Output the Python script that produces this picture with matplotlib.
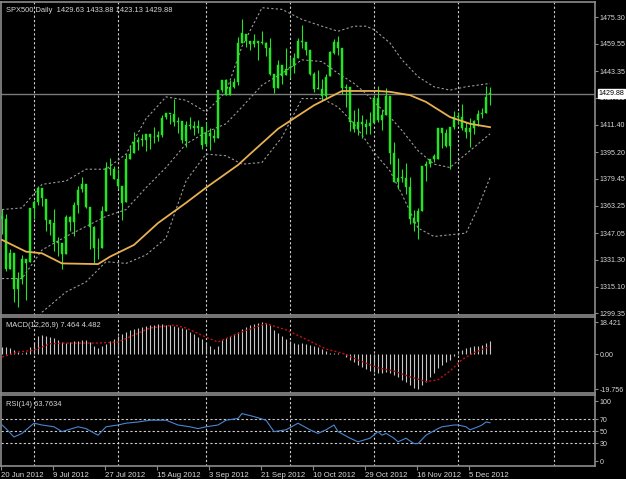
import matplotlib
matplotlib.use('Agg')
import matplotlib.pyplot as plt

# daily bars, SPX500, 20 Jun 2012 .. 12 Dec 2012
opens = [1357.0, 1355.4, 1325.9, 1334.9, 1314.0, 1320.0, 1331.5, 1330.0, 1362.0, 1365.8,
         1373.7, 1367.0, 1354.7, 1352.9, 1341.4, 1341.3, 1334.8, 1356.5, 1353.7, 1363.5,
         1373.0, 1376.5, 1362.3, 1350.5, 1338.4, 1338.2, 1360.1, 1385.9, 1385.3, 1379.3,
         1375.1, 1365.5, 1391.0, 1394.5, 1401.2, 1402.3, 1402.6, 1405.9, 1404.4, 1403.9,
         1405.6, 1415.8, 1417.9, 1418.1, 1413.1, 1413.5, 1402.0, 1411.1, 1410.4, 1409.3,
         1410.1, 1400.1, 1406.5, 1404.9, 1403.7, 1432.1, 1437.9, 1429.1, 1433.6, 1436.6,
         1460.1, 1465.4, 1461.2, 1459.5, 1461.1, 1460.3, 1459.8, 1456.9, 1441.6, 1433.4,
         1447.1, 1440.9, 1445.0, 1446.1, 1451.1, 1461.4, 1460.9, 1455.9, 1441.5, 1432.8,
         1432.8, 1428.8, 1440.3, 1454.2, 1460.9, 1457.1, 1433.2, 1433.7, 1413.2, 1409.7,
         1413.0, 1412.0, 1410.9, 1412.2, 1427.6, 1414.0, 1417.3, 1428.3, 1394.5, 1377.6,
         1379.9, 1380.0, 1374.6, 1355.4, 1353.4, 1359.9, 1386.8, 1387.8, 1391.0, 1391.0,
         1409.2, 1406.3, 1398.8, 1410.0, 1416.0, 1416.3, 1409.5, 1407.1, 1409.4, 1414.0,
         1418.1, 1418.6, 1429.63]
highs = [1361.6, 1358.3, 1337.8, 1334.9, 1324.0, 1334.0, 1331.5, 1362.2, 1366.4, 1374.8,
         1373.9, 1367.0, 1354.7, 1361.5, 1345.0, 1341.3, 1357.7, 1357.3, 1365.4, 1375.3,
         1380.4, 1376.5, 1362.3, 1351.5, 1344.0, 1363.1, 1389.2, 1391.7, 1387.2, 1385.0,
         1375.1, 1394.2, 1399.6, 1407.1, 1404.1, 1405.9, 1406.0, 1405.9, 1410.0, 1407.7,
         1417.4, 1418.7, 1418.1, 1426.7, 1416.1, 1413.5, 1413.5, 1416.2, 1413.6, 1414.0,
         1410.1, 1413.1, 1409.3, 1408.8, 1432.1, 1437.9, 1438.7, 1437.8, 1439.2, 1463.8,
         1474.5, 1465.6, 1461.5, 1465.2, 1461.2, 1467.1, 1460.7, 1463.2, 1441.6, 1450.2,
         1447.1, 1457.1, 1451.5, 1454.3, 1463.1, 1471.0, 1460.9, 1455.9, 1442.5, 1443.9,
         1438.4, 1441.3, 1455.5, 1462.2, 1464.0, 1457.1, 1435.5, 1433.7, 1420.0, 1421.1,
         1417.1, 1415.0, 1418.8, 1428.4, 1434.3, 1419.9, 1433.4, 1428.3, 1401.2, 1391.4,
         1384.9, 1388.8, 1380.1, 1360.6, 1362.0, 1386.9, 1389.8, 1391.2, 1394.0, 1409.2,
         1409.2, 1409.0, 1410.0, 1419.7, 1418.9, 1423.7, 1413.1, 1415.6, 1414.0, 1420.3,
         1421.6, 1434.3, 1433.88]
lows = [1346.5, 1324.4, 1325.9, 1306.0, 1303.0, 1317.0, 1307.0, 1330.0, 1355.7, 1363.5,
        1363.0, 1348.0, 1345.7, 1336.3, 1333.3, 1325.4, 1334.8, 1348.5, 1345.1, 1358.8,
        1371.2, 1362.2, 1337.6, 1329.2, 1331.5, 1338.2, 1360.1, 1381.4, 1379.2, 1373.1,
        1354.7, 1365.5, 1391.0, 1394.5, 1396.6, 1398.8, 1395.6, 1397.3, 1400.6, 1401.6,
        1404.2, 1414.7, 1412.1, 1410.9, 1406.8, 1400.5, 1398.0, 1409.1, 1405.6, 1406.6,
        1397.0, 1399.0, 1396.6, 1401.3, 1403.7, 1431.0, 1429.0, 1429.1, 1433.0, 1435.0,
        1460.1, 1457.6, 1456.1, 1457.9, 1450.0, 1459.5, 1452.1, 1441.1, 1430.5, 1433.4,
        1435.6, 1440.9, 1439.0, 1442.0, 1451.1, 1456.9, 1453.1, 1441.2, 1430.6, 1432.8,
        1425.5, 1427.2, 1440.3, 1453.4, 1452.6, 1429.9, 1422.1, 1407.6, 1407.1, 1405.1,
        1403.3, 1406.0, 1406.0, 1412.2, 1412.9, 1408.1, 1417.3, 1388.1, 1377.5, 1373.0,
        1377.2, 1370.3, 1352.5, 1348.1, 1343.4, 1359.9, 1377.9, 1386.4, 1389.0, 1391.0,
        1397.7, 1398.0, 1385.4, 1409.0, 1411.6, 1408.5, 1403.7, 1398.2, 1405.9, 1410.9,
        1415.6, 1418.6, 1423.13]
closes = [1355.7, 1325.5, 1335.0, 1313.7, 1320.0, 1331.9, 1329.0, 1362.2, 1365.5, 1374.0,
          1367.6, 1354.7, 1352.5, 1341.5, 1341.5, 1334.8, 1356.8, 1353.6, 1363.7, 1372.8,
          1376.5, 1362.7, 1350.5, 1338.3, 1337.9, 1360.0, 1386.0, 1385.3, 1379.3, 1375.3,
          1365.0, 1391.0, 1394.2, 1401.4, 1402.2, 1402.8, 1405.9, 1404.1, 1403.9, 1405.5,
          1415.5, 1418.2, 1418.1, 1413.2, 1413.5, 1402.1, 1411.1, 1410.4, 1409.3, 1410.5,
          1399.5, 1406.6, 1404.9, 1403.4, 1432.1, 1437.9, 1429.1, 1433.6, 1436.6, 1460.0,
          1465.8, 1461.2, 1459.3, 1461.1, 1460.3, 1460.2, 1456.9, 1441.6, 1433.3, 1447.2,
          1440.7, 1444.5, 1445.8, 1451.0, 1461.4, 1460.9, 1455.9, 1441.5, 1432.6, 1432.8,
          1428.6, 1440.1, 1454.9, 1460.9, 1457.3, 1433.2, 1433.8, 1413.1, 1408.8, 1413.0,
          1411.9, 1410.0, 1412.2, 1427.6, 1414.2, 1417.3, 1428.4, 1394.5, 1377.5, 1379.9,
          1380.0, 1374.5, 1355.5, 1353.3, 1359.9, 1386.9, 1387.8, 1391.0, 1393.0, 1409.2,
          1406.3, 1398.9, 1409.9, 1416.0, 1416.2, 1409.5, 1407.1, 1409.3, 1413.9, 1418.1,
          1418.6, 1427.8, 1429.88]

# orange moving average (bar index, value)
ma_bars = [0, 6, 10, 15, 24, 27, 33, 39, 46, 51, 59, 62, 69, 78, 85, 94, 97, 102, 106, 112, 117, 122]
ma_vals = [1343, 1336, 1335, 1329, 1328.6, 1333, 1340, 1353, 1365, 1374, 1387.5, 1394, 1409, 1423,
           1431.5, 1431.5, 1431, 1429, 1425, 1416, 1412, 1410]

# bollinger bands (gray dotted), sampled every few bars
bb_bars = [0, 5, 10, 16, 21, 26, 31, 36, 41, 46, 51, 56, 60, 65, 70, 75, 80, 84, 88, 91, 93, 97,
           100, 104, 108, 112, 116, 119, 122]
bb_up = [1361, 1362, 1376, 1378, 1385, 1385, 1394, 1415, 1428, 1426, 1419, 1431, 1458, 1481, 1480,
         1474, 1470, 1467, 1470, 1470, 1468, 1460, 1450, 1440, 1434, 1432, 1434, 1435, 1436]
bb_mid = [1320, 1320, 1337, 1345, 1351, 1357, 1361, 1374, 1386, 1400, 1407, 1412, 1422, 1435, 1442,
          1450, 1449, 1442, 1436, 1430, 1425, 1416, 1408, 1396, 1388, 1386, 1394, 1400, 1406]
bb_lo = [1280, 1278, 1300, 1312, 1318, 1330, 1329, 1334, 1344, 1378, 1394, 1393, 1388, 1389, 1404,
         1427, 1427, 1422, 1412, 1402, 1395, 1384, 1370, 1350, 1345, 1346, 1347, 1362, 1380]

# MACD(12,26,9) main line, one value per bar
macd = [4.0, 4.2, 3.8, 2.5, 1.5, 1.0, 1.5, 4.0, 7.0, 10.5,
        11.0, 10.5, 10.0, 9.5, 8.0, 7.0, 6.5, 7.0, 7.5, 7.5,
        8.0, 8.0, 7.0, 4.5, 3.5, 4.5, 6.0, 7.5, 9.0, 10.5,
        11.5, 13.0, 14.0, 14.5, 15.0, 15.5, 16.0, 16.5, 16.8, 17.0,
        17.0, 16.8, 16.5, 16.2, 15.8, 15.2, 14.5, 13.0, 11.5, 10.0,
        8.5, 7.0, 4.5, 3.0, 5.0, 8.0, 9.5, 10.5, 11.5, 13.0,
        14.5, 15.5, 16.5, 17.2, 18.0, 18.4, 17.8, 16.5, 14.0, 12.0,
        10.5, 9.0, 7.5, 6.5, 6.0, 6.5, 6.0, 5.5, 5.0, 4.0,
        3.0, 2.0, 1.0, 1.0, 0.5, 0.0, -1.5, -3.0, -4.5, -6.0,
        -7.5, -8.5, -9.5, -10.0, -10.5, -10.5, -10.0, -10.5, -11.5, -13.0,
        -14.5, -16.0, -17.5, -19.0, -19.8, -17.5, -15.5, -13.0, -10.5, -8.0,
        -6.0, -4.5, -3.0, -1.0, 1.0, 2.5, 3.5, 4.0, 4.5, 5.0,
        5.5, 6.5, 7.464]
signal_bars = [0, 4, 8, 12, 16, 24, 29, 33, 37, 43, 46, 51, 54, 59, 66, 71, 77, 81, 85, 89, 94, 98,
               102, 106, 109, 112, 115, 118, 122]
signal_vals = [-1.5, 1.3, 2.4, 6.0, 6.4, 6.4, 7.0, 11, 15, 16.7, 15, 9.8, 7, 12, 17.5, 14, 7.5, 3, 0.7,
               -3.2, -7.7, -9.5, -12.8, -15.5, -14.5, -9.5, -3, 1, 4.482]

# RSI(14)
rsi_bars = [0, 1, 3, 5, 8, 10, 13, 15, 19, 21, 24, 26, 29, 31, 34, 37, 41, 44, 47, 49, 51, 54, 56, 59,
            60, 63, 66, 68, 71, 74, 77, 79, 81, 83, 84, 87, 89, 92, 94, 95, 96, 98, 99, 101, 103, 104,
            106, 109, 110, 113, 114, 116, 117, 119, 120, 121, 122]
rsi_vals = [60, 54, 40, 46, 63, 60, 57, 49, 57, 54, 43, 57, 60, 63, 65, 68, 68, 60, 57, 54, 57, 60, 68, 71,
            79, 74, 68, 49, 52, 63, 52, 46, 52, 60, 49, 38, 32, 38, 49, 43, 46, 38, 32, 38, 29, 29,
            43, 54, 57, 60, 60, 57, 52, 57, 60, 65, 63.7634]

# month starts (bar index) for the vertical grid, date labels every 13 bars
month_bars = [8, 29, 51, 72, 93, 114, 138]
date_bars = [0, 13, 26, 39, 52, 65, 78, 91, 104, 117]
date_labels = ['20 Jun 2012', '9 Jul 2012', '27 Jul 2012', '15 Aug 2012', '3 Sep 2012',
               '21 Sep 2012', '10 Oct 2012', '29 Oct 2012', '16 Nov 2012', '5 Dec 2012']

price_ticks = [1475.30, 1459.55, 1443.35, 1427.60, 1411.40, 1395.20, 1379.45, 1363.25,
               1347.05, 1331.30, 1315.10, 1299.35]
macd_ticks = [18.421, 0.0, -19.756]
macd_labels = ['18.421', '0.00', '-19.756']
rsi_ticks = [100, 70, 50, 30, 0]

W, H = 626, 479
FS = 5.1
plt.rcParams['font.family'] = ['Liberation Sans', 'DejaVu Sans']
fig = plt.figure(figsize=(W / 100, H / 100), dpi=100, facecolor='black')


def panel(y0, y1):
    ax = fig.add_axes([1 / W, 1 - y1 / H, 594 / W, (y1 - y0) / H], facecolor='black')
    ax.set_xlim(-0.25, 148.25)
    for s in ax.spines.values():
        s.set_color('#8c8c8c')
        s.set_linewidth(1.2)
    ax.yaxis.tick_right()
    ax.tick_params(axis='y', colors='#8c8c8c', labelcolor='#d8d8d8', labelsize=FS,
                   length=2.5, width=0.8, pad=0.8)
    ax.set_xticks([])
    for b in month_bars:
        ax.axvline(b, color='#d0d0d0', lw=0.8, ls=(0, (2, 2)), zorder=1)
    return ax


GREEN = '#22e622'
TXT = '#d8d8d8'

# ---- price panel
ax = panel(2, 315)
ax.set_ylim(1298.34, 1484.39)
xs = range(len(closes))
for i in xs:
    ax.vlines(i, lows[i], highs[i], color=GREEN, lw=0.8, zorder=3)
    lo, hi = min(opens[i], closes[i]), max(opens[i], closes[i])
    ax.bar(i, max(hi - lo, 0.4), bottom=lo, width=0.62, color=GREEN, edgecolor=GREEN,
           lw=0.3, zorder=3)
ax.plot(ma_bars, ma_vals, color='#e8b050', lw=1.3, zorder=4)
for band in (bb_up, bb_mid, bb_lo):
    ax.plot(bb_bars, band, color='#9a9a9a', lw=0.8, ls=(0, (2, 2)), zorder=2)
ax.axhline(closes[-1], color='#7a7a7a', lw=1, zorder=2)
ax.set_yticks(price_ticks)
ax.set_yticklabels(['%.2f' % v for v in price_ticks])
ax.text(149.1, closes[-1], '%.2f' % closes[-1], fontsize=FS,
        color='black', va='center', ha='left', clip_on=False, zorder=10,
        bbox=dict(boxstyle='square,pad=0.1', fc='white', ec='white'))
ax.text(1, 1479.6, 'SPX500,Daily  %.2f %.2f %.2f %.2f' % (opens[-1], highs[-1], lows[-1], closes[-1]),
        color=TXT, fontsize=FS + 0.3, va='center', ha='left')

# ---- MACD panel
ax2 = panel(317, 393)
ax2.set_ylim(-22.03, 21.27)
ax2.vlines(list(xs), 0, macd, color='#c8c8c8', lw=0.8, zorder=3)
ax2.plot(signal_bars, signal_vals, color='#c01010', lw=1, ls=(0, (1.5, 1.5)), zorder=4)
ax2.set_yticks(macd_ticks)
ax2.set_yticklabels(macd_labels)
ax2.text(1, 16.7, 'MACD(12,26,9) %.3f %.3f' % (macd[-1], signal_vals[-1]), color=TXT,
         fontsize=FS + 0.3, va='center', ha='left')

# ---- RSI panel
ax3 = panel(395, 466)
ax3.set_ylim(-8.33, 110)
for lev in [70, 50, 30]:
    ax3.axhline(lev, color='#d0d0d0', lw=0.8, ls=(0, (2, 2)), zorder=1)
ax3.plot(rsi_bars, rsi_vals, color='#4a86d0', lw=0.8, zorder=3)
ax3.set_yticks(rsi_ticks)
ax3.set_yticklabels([str(v) for v in rsi_ticks])
ax3.text(1, 95, 'RSI(14) %.4f' % rsi_vals[-1], color=TXT, fontsize=FS + 0.3, va='center', ha='left')
ax3.set_xticks([b - 0.25 for b in date_bars])
ax3.set_xticklabels(date_labels)
ax3.tick_params(axis='x', colors='#8c8c8c', labelcolor=TXT, labelsize=FS + 0.5, length=3,
                width=0.8, pad=1.5)
for t in ax3.get_xticklabels():
    t.set_ha('left')

fig.savefig('out.png', dpi=100, facecolor='black')
